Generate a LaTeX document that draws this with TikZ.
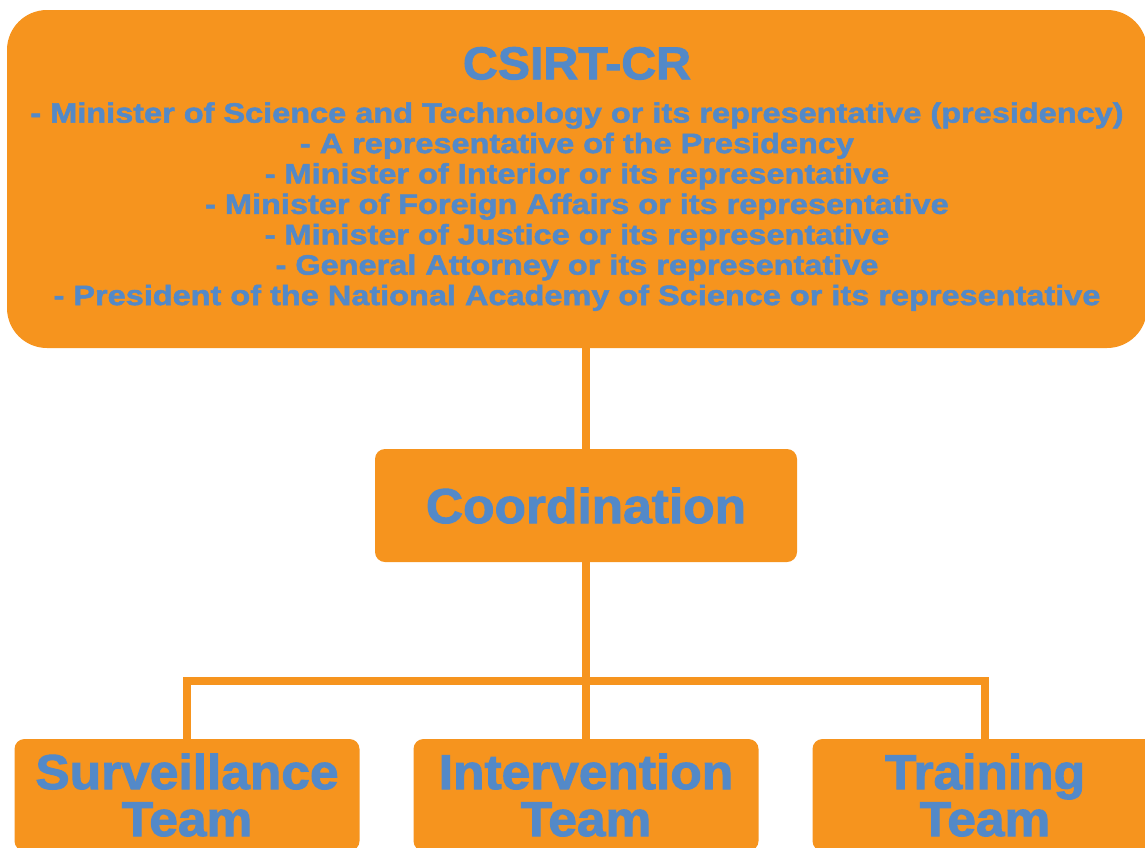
\documentclass[tikz,border=0pt]{standalone}
\usepackage{fontspec}
\newfontfamily\heavyfont[FakeBold=2, FakeStretch=1.05]{Liberation Sans Bold}
\newfontfamily\listfont[FakeBold=1.8, FakeStretch=1.16]{Liberation Sans Bold}
\usepackage{xcolor}
\definecolor{colorBox}{RGB}{246,148,30}
\definecolor{colorLabel}{RGB}{83,137,200}
\usepackage{tikz}
\usetikzlibrary{positioning}

\begin{document}
\begin{tikzpicture}[x=1pt, y=-1pt, line width=8pt,
  every node/.style={fill=colorBox, text=colorLabel, align=center, inner sep=0pt, outer sep=0pt},
  team/.style={rounded corners=10pt, minimum width=345pt, minimum height=112pt, font=\heavyfont\fontsize{49}{47}\selectfont}]
\useasboundingbox (0,0) rectangle (1145,847);
\clip (0,0) rectangle (1145,847);
\node[rounded corners=40pt, minimum width=1140pt, minimum height=338pt, font=\listfont\fontsize{28}{30.4}\selectfont] (csirt) at (577,179) {{\heavyfont\fontsize{46}{46}\selectfont CSIRT-CR}\\[13pt]
- Minister of Science and Technology or its representative (presidency)\\
- A representative of the Presidency\\
- Minister of Interior or its representative\\
- Minister of Foreign Affairs or its representative\\
- Minister of Justice or its representative\\
- General Attorney or its representative\\
- President of the National Academy of Science or its representative};
\node[rounded corners=10pt, minimum width=422pt, minimum height=113pt, font=\heavyfont\fontsize{49}{49}\selectfont] (coord) at (586,505.5) {Coordination};
\node[team] (interv) at (586,795) {Intervention\\Team};
\node[team, left=54pt of interv] (surv) {Surveillance\\Team};
\node[team, right=54pt of interv] (train) {Training\\Team};
\coordinate (bar) at (586,681);
\draw[colorBox] (coord) -- (coord |- csirt.south);
\draw[colorBox] (coord) -- (interv);
\draw[colorBox] (surv) |- (bar) -| (train);
\end{tikzpicture}
\end{document}
